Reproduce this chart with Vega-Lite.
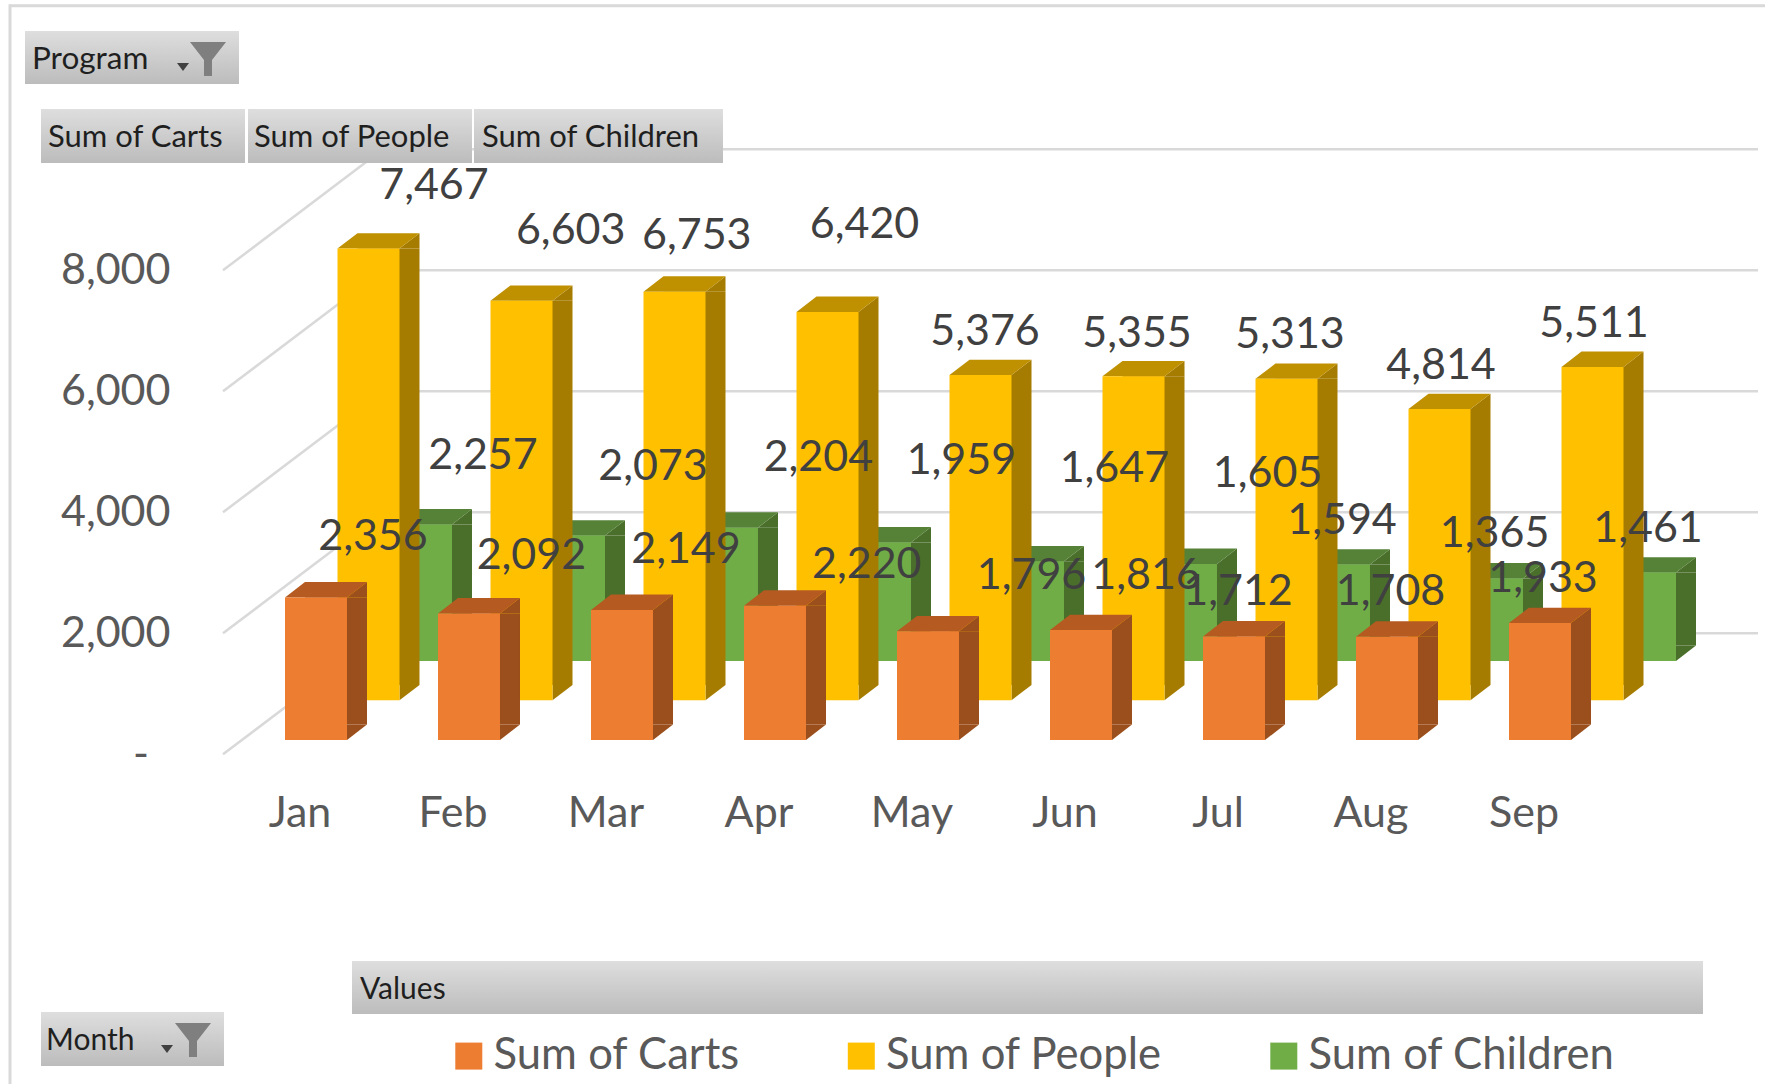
{"$schema":"https://vega.github.io/schema/vega-lite/v6.json","width":1765,"height":1084,"padding":0,"autosize":{"type":"none"},"background":"white","config":{"view":{"stroke":null},"font":"Lato"},
"datasets":{
"bars":[
{"Month":"Jan","Series":"Sum of Carts","Value":2356},{"Month":"Feb","Series":"Sum of Carts","Value":2092},{"Month":"Mar","Series":"Sum of Carts","Value":2149},{"Month":"Apr","Series":"Sum of Carts","Value":2220},{"Month":"May","Series":"Sum of Carts","Value":1796},{"Month":"Jun","Series":"Sum of Carts","Value":1816},{"Month":"Jul","Series":"Sum of Carts","Value":1712},{"Month":"Aug","Series":"Sum of Carts","Value":1708},{"Month":"Sep","Series":"Sum of Carts","Value":1933},
{"Month":"Jan","Series":"Sum of People","Value":7467},{"Month":"Feb","Series":"Sum of People","Value":6603},{"Month":"Mar","Series":"Sum of People","Value":6753},{"Month":"Apr","Series":"Sum of People","Value":6420},{"Month":"May","Series":"Sum of People","Value":5376},{"Month":"Jun","Series":"Sum of People","Value":5355},{"Month":"Jul","Series":"Sum of People","Value":5313},{"Month":"Aug","Series":"Sum of People","Value":4814},{"Month":"Sep","Series":"Sum of People","Value":5511},
{"Month":"Jan","Series":"Sum of Children","Value":2257},{"Month":"Feb","Series":"Sum of Children","Value":2073},{"Month":"Mar","Series":"Sum of Children","Value":2204},{"Month":"Apr","Series":"Sum of Children","Value":1959},{"Month":"May","Series":"Sum of Children","Value":1647},{"Month":"Jun","Series":"Sum of Children","Value":1605},{"Month":"Jul","Series":"Sum of Children","Value":1594},{"Month":"Aug","Series":"Sum of Children","Value":1365},{"Month":"Sep","Series":"Sum of Children","Value":1461}],
"levels":[{"Level":0},{"Level":2000},{"Level":4000},{"Level":6000},{"Level":8000}],
"buttons":[{"Label":"Program","Month":"Jan","Level":8000},{"Label":"Sum of Carts","Month":"Jan","Level":8000},{"Label":"Sum of People","Month":"Jan","Level":8000},{"Label":"Sum of Children","Month":"Jan","Level":8000},{"Label":"Month","Month":"Jan","Level":8000},{"Label":"Values","Month":"Jan","Level":8000}]
},
"data":{"name":"bars"},
"encoding":{
"x":{"field":"Month","type":"nominal","sort":null,"title":null,"scale":{"domain":["Jan","Feb","Mar","Apr","May","Jun","Jul","Aug","Sep"],"range":[285,1571],"paddingInner":0.5948,"paddingOuter":0},"axis":{"orient":"bottom","offset":-271,"domain":false,"ticks":false,"grid":false,"labelAngle":0,"labelPadding":0,"labelBaseline":"middle","labelOffset":-16,"labelFontSize":43,"labelFont":"Lato","labelColor":"#595959"}},
"y":{"field":"Value","type":"quantitative","title":null,"scale":{"domain":[-5450,12468],"nice":false,"zero":false},"axis":{"orient":"left","offset":-170,"domain":false,"ticks":false,"grid":false,"labelPadding":0,"values":[0,2000,4000,6000,8000],"labelExpr":"datum.value==0?'-\u2002\u200b':format(datum.value,',')","labelFontSize":43,"labelFont":"Lato","labelColor":"#595959"}}
},
"layer":[
{"data":{"values":[{"Label":"Frame top","Month":"Jan","Level":8000},{"Label":"Frame left","Month":"Jan","Level":8000}]},"mark":{"type":"point","size":4,"filled":true,"opacity":1,"color":"#d9d9d9"},"encoding":{"y":{"field":"Level","type":"quantitative"},"shape":{"field":"Label","type":"nominal","legend":null,"scale":{"domain":["Frame top","Frame left"],"range":["M-306,-266L1449,-266L1449,-263L-306,-263Z","M-307.5,-266L-304.5,-266L-304.5,814L-307.5,814Z"]}}}},
{"data":{"name":"levels"},"mark":{"type":"rule","color":"#d9d9d9","strokeWidth":2.5,"yOffset":-121,"y2Offset":-121,"xOffset":67,"x2Offset":218},"encoding":{"x":{"datum":"Jan"},"x2":{"datum":"Sep"},"y":{"field":"Level","type":"quantitative"},"y2":{"field":"Level"}}},
{"data":{"name":"levels"},"mark":{"type":"rule","color":"#d9d9d9","strokeWidth":2.5,"xOffset":-93,"x2Offset":67,"yOffset":0,"y2Offset":-121},"encoding":{"x":{"datum":"Jan"},"x2":{"datum":"Jan"},"y":{"field":"Level","type":"quantitative"},"y2":{"field":"Level"}}},
{"transform":[{"filter":"datum.Series=='Sum of Children'"}],"layer":[
{"mark":{"type":"bar","color":"#4a6f2b","xOffset":125,"yOffset":-93.3,"y2Offset":-108.7},"encoding":{"y2":{"datum":0}}},
{"mark":{"type":"point","shape":"M31,0L51,-15.4L31,-15.4Z","size":4,"filled":true,"opacity":1,"color":"#4a6f2b","xOffset":105,"yOffset":-93.3},"encoding":{"y":{"datum":0}}},
{"mark":{"type":"point","shape":"M31,0L51,-15.4L51,0Z","size":4,"filled":true,"opacity":1,"color":"#4a6f2b","xOffset":105,"yOffset":-93.3}},
{"mark":{"type":"point","shape":"M-31,0L31,0L51,-15.4L-11,-15.4Z","size":4,"filled":true,"opacity":1,"color":"#558237","xOffset":105,"yOffset":-93.3}},
{"mark":{"type":"bar","xOffset":105,"yOffset":-93.3,"y2Offset":-93.3},"encoding":{"y2":{"datum":0},"color":{"field":"Series","type":"nominal","title":null,"scale":{"domain":["Sum of Carts","Sum of People","Sum of Children"],"range":["#ED7D31","#FFC000","#70AD47"]},"legend":{"orient":"none","legendX":447,"legendY":1034,"direction":"horizontal","columns":3,"symbolType":"square","symbolSize":729,"symbolStrokeWidth":0,"symbolOpacity":1,"labelFont":"Lato","labelFontSize":43.6,"labelColor":"#595959","labelOffset":3,"labelLimit":400,"columnPadding":99.5,"padding":0,"title":null}}}}
]},
{"transform":[{"filter":"datum.Series=='Sum of People'"}],"layer":[
{"mark":{"type":"bar","color":"#a67c00","xOffset":72.5,"yOffset":-54,"y2Offset":-69.4},"encoding":{"y2":{"datum":0}}},
{"mark":{"type":"point","shape":"M31,0L51,-15.4L31,-15.4Z","size":4,"filled":true,"opacity":1,"color":"#a67c00","xOffset":52.5,"yOffset":-54},"encoding":{"y":{"datum":0}}},
{"mark":{"type":"point","shape":"M31,0L51,-15.4L51,0Z","size":4,"filled":true,"opacity":1,"color":"#a67c00","xOffset":52.5,"yOffset":-54}},
{"mark":{"type":"point","shape":"M-31,0L31,0L51,-15.4L-11,-15.4Z","size":4,"filled":true,"opacity":1,"color":"#bf9000","xOffset":52.5,"yOffset":-54}},
{"mark":{"type":"bar","xOffset":52.5,"yOffset":-54,"y2Offset":-54},"encoding":{"y2":{"datum":0},"color":{"field":"Series","type":"nominal"}}}
]},
{"transform":[{"filter":"datum.Series=='Sum of Carts'"}],"layer":[
{"mark":{"type":"bar","color":"#9a4f1c","xOffset":20,"yOffset":-14.3,"y2Offset":-29.7},"encoding":{"y2":{"datum":0}}},
{"mark":{"type":"point","shape":"M31,0L51,-15.4L31,-15.4Z","size":4,"filled":true,"opacity":1,"color":"#9a4f1c","xOffset":0,"yOffset":-14.3},"encoding":{"y":{"datum":0}}},
{"mark":{"type":"point","shape":"M31,0L51,-15.4L51,0Z","size":4,"filled":true,"opacity":1,"color":"#9a4f1c","xOffset":0,"yOffset":-14.3}},
{"mark":{"type":"point","shape":"M-31,0L31,0L51,-15.4L-11,-15.4Z","size":4,"filled":true,"opacity":1,"color":"#b55a20","xOffset":0,"yOffset":-14.3}},
{"mark":{"type":"bar","xOffset":0,"yOffset":-14.3,"y2Offset":-14.3},"encoding":{"y2":{"datum":0},"color":{"field":"Series","type":"nominal"}}}
]},
{"encoding":{"text":{"field":"Value","type":"quantitative","format":","}},"layer":[
{"transform":[{"filter":"datum.Value==7467"}],"mark":{"type":"text","dx":118,"dy":-116.5,"fontSize":43,"font":"Lato","color":"#404040"}},
{"transform":[{"filter":"datum.Value==6603"}],"mark":{"type":"text","dx":101.7,"dy":-124.3,"fontSize":43,"font":"Lato","color":"#404040"}},
{"transform":[{"filter":"datum.Value==6753"}],"mark":{"type":"text","dx":74.8,"dy":-109.7,"fontSize":43,"font":"Lato","color":"#404040"}},
{"transform":[{"filter":"datum.Value==6420"}],"mark":{"type":"text","dx":89.5,"dy":-140.9,"fontSize":43,"font":"Lato","color":"#404040"}},
{"transform":[{"filter":"datum.Value==5376"}],"mark":{"type":"text","dx":57,"dy":-97.1,"fontSize":43,"font":"Lato","color":"#404040"}},
{"transform":[{"filter":"datum.Value==5355"}],"mark":{"type":"text","dx":56,"dy":-96.3,"fontSize":43,"font":"Lato","color":"#404040"}},
{"transform":[{"filter":"datum.Value==5313"}],"mark":{"type":"text","dx":56,"dy":-97.7,"fontSize":43,"font":"Lato","color":"#404040"}},
{"transform":[{"filter":"datum.Value==4814"}],"mark":{"type":"text","dx":54,"dy":-97.1,"fontSize":43,"font":"Lato","color":"#404040"}},
{"transform":[{"filter":"datum.Value==5511"}],"mark":{"type":"text","dx":54,"dy":-96.9,"fontSize":43,"font":"Lato","color":"#404040"}},
{"transform":[{"filter":"datum.Value==2257"}],"mark":{"type":"text","dx":167,"dy":-162.2,"fontSize":43,"font":"Lato","color":"#404040"}},
{"transform":[{"filter":"datum.Value==2073"}],"mark":{"type":"text","dx":184,"dy":-161.9,"fontSize":43,"font":"Lato","color":"#404040"}},
{"transform":[{"filter":"datum.Value==2204"}],"mark":{"type":"text","dx":196.4,"dy":-163,"fontSize":43,"font":"Lato","color":"#404040"}},
{"transform":[{"filter":"datum.Value==1959"}],"mark":{"type":"text","dx":186.4,"dy":-174.5,"fontSize":43,"font":"Lato","color":"#404040"}},
{"transform":[{"filter":"datum.Value==1647"}],"mark":{"type":"text","dx":186.4,"dy":-185.5,"fontSize":43,"font":"Lato","color":"#404040"}},
{"transform":[{"filter":"datum.Value==1605"}],"mark":{"type":"text","dx":186.6,"dy":-183.2,"fontSize":43,"font":"Lato","color":"#404040"}},
{"transform":[{"filter":"datum.Value==1594"}],"mark":{"type":"text","dx":108,"dy":-136.9,"fontSize":43,"font":"Lato","color":"#404040"}},
{"transform":[{"filter":"datum.Value==1365"}],"mark":{"type":"text","dx":107.6,"dy":-137.7,"fontSize":43,"font":"Lato","color":"#404040"}},
{"transform":[{"filter":"datum.Value==1461"}],"mark":{"type":"text","dx":108,"dy":-136.9,"fontSize":43,"font":"Lato","color":"#404040"}},
{"transform":[{"filter":"datum.Value==2356"}],"mark":{"type":"text","dx":57,"dy":-75.1,"fontSize":43,"font":"Lato","color":"#404040"}},
{"transform":[{"filter":"datum.Value==2092"}],"mark":{"type":"text","dx":62.4,"dy":-71.9,"fontSize":43,"font":"Lato","color":"#404040"}},
{"transform":[{"filter":"datum.Value==2149"}],"mark":{"type":"text","dx":64,"dy":-74.5,"fontSize":43,"font":"Lato","color":"#404040"}},
{"transform":[{"filter":"datum.Value==2220"}],"mark":{"type":"text","dx":91.8,"dy":-55,"fontSize":43,"font":"Lato","color":"#404040"}},
{"transform":[{"filter":"datum.Value==1796"}],"mark":{"type":"text","dx":103.5,"dy":-69.6,"fontSize":43,"font":"Lato","color":"#404040"}},
{"transform":[{"filter":"datum.Value==1816"}],"mark":{"type":"text","dx":65,"dy":-68.4,"fontSize":43,"font":"Lato","color":"#404040"}},
{"transform":[{"filter":"datum.Value==1712"}],"mark":{"type":"text","dx":4,"dy":-58.7,"fontSize":43,"font":"Lato","color":"#404040"}},
{"transform":[{"filter":"datum.Value==1708"}],"mark":{"type":"text","dx":3.5,"dy":-59,"fontSize":43,"font":"Lato","color":"#404040"}},
{"transform":[{"filter":"datum.Value==1933"}],"mark":{"type":"text","dx":3,"dy":-58.4,"fontSize":43,"font":"Lato","color":"#404040"}}
]},
{"data":{"name":"buttons"},"mark":{"type":"point","size":4,"filled":true,"opacity":1,"fill":{"gradient":"linear","x1":0,"y1":0,"x2":0,"y2":1,"stops":[{"offset":0,"color":"#dedede"},{"offset":1,"color":"#bcbcbc"}]}},"encoding":{"y":{"field":"Level","type":"quantitative"},"shape":{"field":"Label","type":"nominal","legend":null,"scale":{"domain":["Program","Sum of Carts","Sum of People","Sum of Children","Month","Values"],"range":["M-291,-239.3L-77,-239.3L-77,-186.3L-291,-186.3Z","M-275,-161.3L-71,-161.3L-71,-107.3L-275,-107.3Z","M-68,-161.3L156,-161.3L156,-107.3L-68,-107.3Z","M158,-161.3L407,-161.3L407,-107.3L158,-107.3Z","M-275,741.7L-92,741.7L-92,795.7L-275,795.7Z","M36,690.7L1387,690.7L1387,743.7L36,743.7Z"]}}}},
{"data":{"values":[{"Label":"Program filter","Month":"Jan","Level":8000},{"Label":"Month filter","Month":"Jan","Level":8000}]},"mark":{"type":"point","size":4,"filled":true,"opacity":1,"color":"#7f7f7f"},"encoding":{"y":{"field":"Level","type":"quantitative"},"shape":{"field":"Label","type":"nominal","legend":null,"scale":{"domain":["Program filter","Month filter"],"range":["M-126,-228.3L-90,-228.3L-104,-210.3L-104,-194.3L-112,-194.3L-112,-210.3Z","M-141,752.7L-105,752.7L-119,770.7L-119,786.7L-127,786.7L-127,770.7Z"]}}}},
{"data":{"values":[{"Label":"Program arrow","Month":"Jan","Level":8000},{"Label":"Month arrow","Month":"Jan","Level":8000}]},"mark":{"type":"point","size":4,"filled":true,"opacity":1,"color":"#404040"},"encoding":{"y":{"field":"Level","type":"quantitative"},"shape":{"field":"Label","type":"nominal","legend":null,"scale":{"domain":["Program arrow","Month arrow"],"range":["M-139,-207.3L-127,-207.3L-133,-199.3Z","M-155,774.7L-143,774.7L-149,782.7Z"]}}}},
{"data":{"name":"buttons"},"encoding":{"y":{"field":"Level","type":"quantitative"},"text":{"field":"Label"}},"layer":[
{"transform":[{"filter":"datum.Label=='Program'"}],"mark":{"type":"text","align":"left","dx":-284,"dy":-210,"fontSize":31.5,"font":"Lato","color":"#1f1f1f"}},
{"transform":[{"filter":"datum.Label=='Sum of Carts'"}],"mark":{"type":"text","align":"left","dx":-268,"dy":-132,"fontSize":31,"font":"Lato","color":"#1f1f1f"}},
{"transform":[{"filter":"datum.Label=='Sum of People'"}],"mark":{"type":"text","align":"left","dx":-62,"dy":-132,"fontSize":31,"font":"Lato","color":"#1f1f1f"}},
{"transform":[{"filter":"datum.Label=='Sum of Children'"}],"mark":{"type":"text","align":"left","dx":166,"dy":-132,"fontSize":31,"font":"Lato","color":"#1f1f1f"}},
{"transform":[{"filter":"datum.Label=='Month'"}],"mark":{"type":"text","align":"left","dx":-270,"dy":771,"fontSize":30,"font":"Lato","color":"#1f1f1f"}},
{"transform":[{"filter":"datum.Label=='Values'"}],"mark":{"type":"text","align":"left","dx":44,"dy":720,"fontSize":30,"font":"Lato","color":"#1f1f1f"}}
]}
],
"resolve":{"scale":{"shape":"independent"}}
}
